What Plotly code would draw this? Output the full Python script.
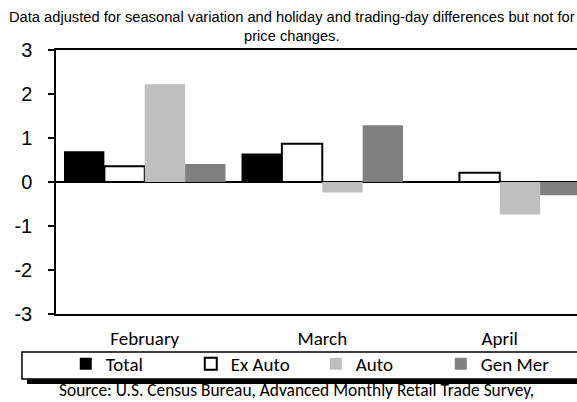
import plotly.graph_objects as go

months = ["February", "March", "April"]
total = [0.70, 0.65, 0.0]
ex_auto = [0.36, 0.87, 0.21]
auto = [2.22, -0.24, -0.74]
gen_mer = [0.41, 1.29, -0.30]
y_ticks = [-3, -2, -1, 0, 1, 2, 3]
y_tick_labels = ["-3", "-2", "-1", "0", "1", "2", "3"]

CAL = "Carlito, Calibri, Lato, Liberation Sans, Arial"

fig = go.Figure()
fig.add_bar(name="Total", x=months, y=total, marker=dict(color="#000000", line=dict(width=0)))
fig.add_bar(name="Ex Auto", x=months, y=ex_auto, marker=dict(color="#ffffff", line=dict(color="#000000", width=2)))
fig.add_bar(name="Auto", x=months, y=auto, marker=dict(color="#bfbfbf", line=dict(width=0)))
fig.add_bar(name="Gen Mer", x=months, y=gen_mer, marker=dict(color="#808080", line=dict(width=0)))

fig.update_layout(
    width=577, height=402,
    margin=dict(l=56, r=0, t=50, b=88, autoexpand=False),
    paper_bgcolor="white", plot_bgcolor="white",
    barmode="group", bargap=0.09, bargroupgap=0,
    font=dict(family="Liberation Sans, Arial", color="#000000"),
    showlegend=True,
    legend=dict(
        orientation="h", xref="container", yref="container",
        x=0.114, y=0.1418, xanchor="left", yanchor="top",
        borderwidth=0, bgcolor="rgba(0,0,0,0)",
        font=dict(family=CAL, size=19),
        entrywidth=80, itemwidth=30,
    ),
)
# legend frame with drop shadow
fig.add_shape(type="rect", xref="paper", yref="paper",
              x0=-0.0557, x1=1.1, y0=-0.2652, y1=-0.2462,
              fillcolor="#000000", line=dict(width=0))
fig.add_shape(type="rect", xref="paper", yref="paper",
              x0=-0.0653, x1=1.1, y0=-0.2462, y1=-0.1439,
              fillcolor="#ffffff", line=dict(color="#000000", width=1.5))

fig.update_xaxes(
    range=[-0.5, 2.435], showline=True, linecolor="#000000", linewidth=1.5,
    mirror=True, ticks="", showgrid=False, automargin=False,
    tickfont=dict(family=CAL, size=19),
    ticklabelstandoff=6,
)
fig.update_yaxes(
    range=[-3, 3], tickvals=y_ticks, ticktext=y_tick_labels,
    showline=True, linecolor="#000000", linewidth=1.5,
    ticks="outside", ticklen=6, tickwidth=1.5, tickcolor="#000000",
    showgrid=False, zeroline=True, zerolinecolor="#000000", zerolinewidth=1.5,
    tickfont=dict(size=20), ticklabelstandoff=12, automargin=False,
)
fig.add_annotation(
    text="Data adjusted for seasonal variation and holiday and trading-day differences but not for<br>price changes.",
    xref="paper", yref="paper", x=0.453, y=1 + 50 / 264, xanchor="center", yanchor="top",
    yshift=-7,
    showarrow=False, font=dict(size=14.7), align="center",
)
fig.add_annotation(
    text="Source: U.S. Census Bureau, Advanced Monthly Retail Trade Survey,",
    xref="paper", yref="paper", x=0.4607, y=-0.299, xanchor="center", yanchor="middle",
    yshift=3,
    showarrow=False, font=dict(family=CAL, size=17.4),
)
fig.write_html(
    "out.html",
    config={"displayModeBar": False},
    post_script="document.body.style.margin='0';document.body.style.overflow='hidden';",
)
